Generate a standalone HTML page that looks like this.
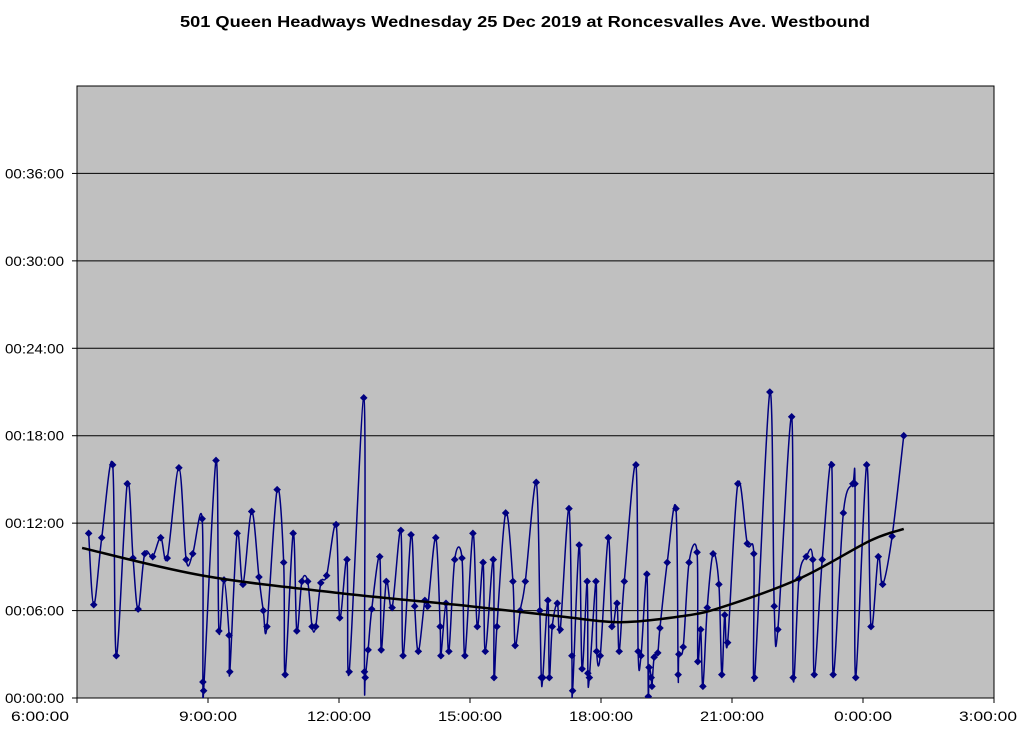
<!DOCTYPE html>
<html><head><meta charset="utf-8"><style>
html,body{margin:0;padding:0;background:#fff}
svg{display:block;font-family:"Liberation Sans",Arial,sans-serif}
</style></head><body>
<svg id="chart" width="1024" height="732">
<defs><clipPath id="plotclip"><rect x="77" y="86" width="917" height="612"/></clipPath></defs>
<text x="525" y="27" text-anchor="middle" font-size="16" font-weight="bold" textLength="690" lengthAdjust="spacingAndGlyphs">501 Queen Headways Wednesday 25 Dec 2019 at Roncesvalles Ave. Westbound</text>
<rect x="77" y="86" width="917" height="612" fill="#c0c0c0" stroke="#000" stroke-width="1"/>
<g id="grid"></g><g id="axes"></g><g id="series" clip-path="url(#plotclip)"></g>
</svg>
<script>
// minutes after 6:00
const times=[16,23,34,49,54,69,77,84,93,104,115,124,140,150,159,172,173,174,191,195,202,209,210,220,228,240,250,256,261,275,284,286,297,302,309,317,323,328,335,343,356,361,371,374,394,395,396,400,405,416,418,425,433,445,448,459,464,469,478,482,493,499,500,507,511,519,529,533,544,550,558,561,572,573,577,589,599,602,609,616,631,636,638,640,647,649,653,660,664,676,680,681,690,694,701,702,704,713,714,719,730,735,742,745,752,768,771,775,783,785,786,789,790,793,798,801,811,823,826,827,833,841,852,853,857,860,866,874,882,886,890,894,908,921,930,931,952,958,963,982,984,992,1002,1011,1013,1024,1037,1039,1053,1066,1069,1070,1085,1091,1101,1107,1120,1136];
// headway in minutes
const headways=[11.3,6.4,11.0,16.0,2.9,14.7,9.6,6.1,9.9,9.7,11.0,9.6,15.8,9.5,9.9,12.3,1.1,0.5,16.3,4.6,8.1,4.3,1.8,11.3,7.8,12.8,8.3,6.0,4.9,14.3,9.3,1.6,11.3,4.6,8.0,8.0,4.9,4.9,7.9,8.4,11.9,5.5,9.5,1.8,20.6,1.8,1.4,3.3,6.1,9.7,3.3,8.0,6.2,11.5,2.9,11.2,6.3,3.2,6.7,6.3,11.0,4.9,2.9,6.5,3.2,9.5,9.6,2.9,11.3,4.9,9.3,3.2,9.5,1.4,4.9,12.7,8.0,3.6,6.0,8.0,14.8,6.0,1.4,1.4,6.7,1.4,4.9,6.5,4.7,13.0,2.9,0.5,10.5,2.0,8.0,1.7,1.4,8.0,3.2,2.9,11.0,4.9,6.5,3.2,8.0,16.0,3.2,2.9,8.5,0.1,2.1,1.4,0.8,2.8,3.1,4.8,9.3,13.0,1.6,3.0,3.5,9.3,10.0,2.5,4.7,0.8,6.2,9.9,7.8,1.6,5.7,3.8,14.7,10.6,9.9,1.4,21.0,6.3,4.7,19.3,1.4,8.2,9.7,9.5,1.6,9.5,16.0,1.6,12.7,14.7,14.7,1.4,16.0,4.9,9.7,7.8,11.1,18.0];
const trendTimes=[7,173,361,540,664,746,829,884,993,1090,1136];
const trendValues=[10.3,8.4,7.2,6.3,5.6,5.2,5.6,6.2,8.2,10.8,11.6];
const yTicks=[0,6,12,18,24,30,36];
const yTickLabels=["00:00:00","00:06:00","00:12:00","00:18:00","00:24:00","00:30:00","00:36:00"];
const xTicks=[0,180,360,540,720,900,1080,1260];
const xTickLabels=["6:00:00","9:00:00","12:00:00","15:00:00","18:00:00","21:00:00","0:00:00","3:00:00"];

const NS="http://www.w3.org/2000/svg";
const X=t=>77+t*917/1260;
const Y=m=>698-m*612/42;
function mk(tag,attrs,parent){const e=document.createElementNS(NS,tag);for(const k in attrs)e.setAttribute(k,attrs[k]);parent.appendChild(e);return e;}
function smoothPath(p){
  let d=`M${p[0][0]},${p[0][1]}`;
  for(let i=0;i<p.length-1;i++){
    const p0=p[Math.max(0,i-1)],p1=p[i],p2=p[i+1],p3=p[Math.min(p.length-1,i+2)];
    d+=` C${p1[0]+(p2[0]-p0[0])/6},${p1[1]+(p2[1]-p0[1])/6} ${p2[0]-(p3[0]-p1[0])/6},${p2[1]-(p3[1]-p1[1])/6} ${p2[0]},${p2[1]}`;
  }
  return d;
}
const grid=document.getElementById('grid'),axes=document.getElementById('axes'),series=document.getElementById('series');
yTicks.forEach((v,i)=>{
  if(v>0){const l=mk('line',{x1:77,x2:994,y1:Y(v),y2:Y(v),stroke:'#000','stroke-width':1},grid);
  
  }
  const tk=mk('line',{x1:72,x2:77,y1:Y(v),y2:Y(v),stroke:'#000'},axes);
  
  
  const t=mk('text',{x:64,y:Y(v)+5,'text-anchor':'end','font-size':14,textLength:59,lengthAdjust:'spacingAndGlyphs'},axes);t.textContent=yTickLabels[i];
  
  
});
xTicks.forEach((v,i)=>{
  const tk=mk('line',{x1:X(v),x2:X(v),y1:698,y2:703,stroke:'#000'},axes);
  
  
  let cx=X(v); if(i===0)cx=40; if(i===xTicks.length-1)cx=988;
  const len=xTickLabels[i].length>7?64:58;
  const t=mk('text',{x:cx,y:721,'text-anchor':'middle','font-size':14,textLength:len,lengthAdjust:'spacingAndGlyphs'},axes);t.textContent=xTickLabels[i];
  
  
});
const pts=times.map((t,i)=>[X(t),Y(headways[i])]);
const pl=mk('path',{d:smoothPath(pts),fill:'none',stroke:'#000080','stroke-width':1.5,'stroke-linejoin':'round'},series);


times.forEach((t,i)=>{
  const x=X(t),y=Y(headways[i]),r=3.8;
  const d=mk('polygon',{points:`${x},${y-r} ${x+r},${y} ${x},${y+r} ${x-r},${y}`,fill:'#000080'},series);
  
  
});
const tp=trendTimes.map((t,i)=>[X(t),Y(trendValues[i])]);
const tr=mk('path',{d:smoothPath(tp),fill:'none',stroke:'#000','stroke-width':2.5},series);


</script>
</body></html>
